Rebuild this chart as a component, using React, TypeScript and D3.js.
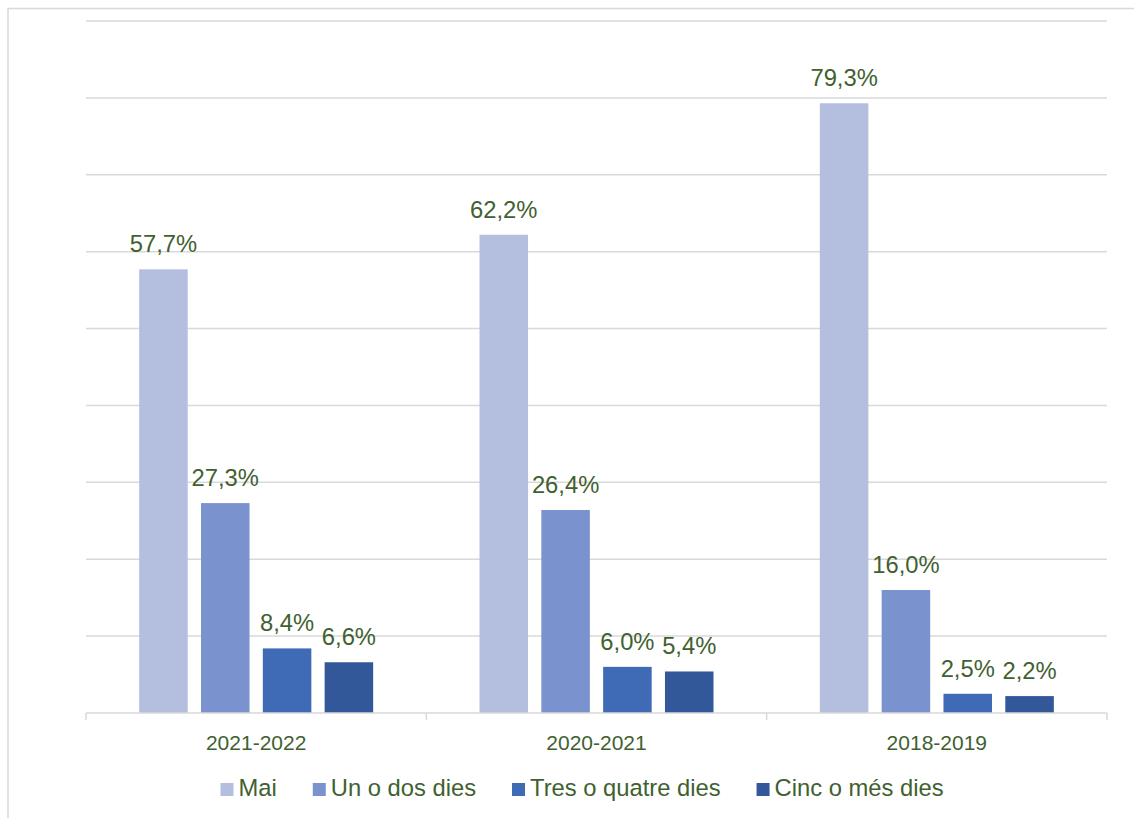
import React, { useEffect, useRef } from "react";
import * as d3 from "d3";

// ─── Data ─────────────────────────────────────────────────────────────────────
const CATEGORIES = ["2021-2022", "2020-2021", "2018-2019"];
const SERIES = ["Mai", "Un o dos dies", "Tres o quatre dies", "Cinc o més dies"];
const MAI = [57.7, 62.2, 79.3];
const UN_O_DOS = [27.3, 26.4, 16.0];
const TRES_O_QUATRE = [8.4, 6.0, 2.5];
const CINC_O_MES = [6.6, 5.4, 2.2];
const Y_TICKS = [0, 10, 20, 30, 40, 50, 60, 70, 80, 90];

// ─── Design tokens ────────────────────────────────────────────────────────────
const W = 1134;
const H = 818;
const PLOT = { left: 86, right: 1107, top: 21, bottom: 713 };
const COLORS = ["#b4bfe0", "#7a93cf", "#3e6ab6", "#335899"];
const TEXT = "#3f6130";
const GRID = "#d9d9d9";
const FONT = "'Liberation Sans', Arial, sans-serif";

export default function App() {
  const svgRef = useRef<SVGSVGElement>(null);

  useEffect(() => {
    const node = svgRef.current;
    if (!node) return;
    const svg = d3.select(node);
    svg.selectAll("*").remove();

    const values = [MAI, UN_O_DOS, TRES_O_QUATRE, CINC_O_MES];

    // frame (only top and left edges are visible in the view)
    svg.append("line").attr("x1", 8).attr("x2", W).attr("y1", 8.5).attr("y2", 8.5)
      .attr("stroke", GRID).attr("stroke-width", 1.5);
    svg.append("line").attr("x1", 8).attr("x2", 8).attr("y1", 8).attr("y2", H)
      .attr("stroke", GRID).attr("stroke-width", 1.5);

    const x0 = d3.scaleBand<string>().domain(CATEGORIES).range([PLOT.left, PLOT.right]);
    const x1 = d3.scaleBand<string>()
      .domain(SERIES)
      .range([0, 234])
      .paddingInner(0.215)
      .paddingOuter(0);
    const groupOffset = (x0.bandwidth() - 234) / 2;
    const y = d3.scaleLinear().domain([0, 90]).range([PLOT.bottom, PLOT.top]);

    // ── Grid lines ──────────────────────────────────────────────────────────
    svg.append("g")
      .selectAll("line")
      .data(Y_TICKS.slice(1))
      .join("line")
      .attr("x1", PLOT.left)
      .attr("x2", PLOT.right)
      .attr("y1", (d) => y(d))
      .attr("y2", (d) => y(d))
      .attr("stroke", GRID)
      .attr("stroke-width", 1.5);

    // ── Bars ────────────────────────────────────────────────────────────────
    const groups = svg.append("g")
      .selectAll("g")
      .data(CATEGORIES)
      .join("g")
      .attr("transform", (c) => `translate(${(x0(c) ?? 0) + groupOffset},0)`);

    groups.selectAll("rect")
      .data((_, ci) => SERIES.map((s, si) => ({ s, si, v: values[si][ci] })))
      .join("rect")
      .attr("x", (d) => x1(d.s) ?? 0)
      .attr("width", x1.bandwidth())
      .attr("y", (d) => y(d.v))
      .attr("height", (d) => y(0) - y(d.v))
      .attr("fill", (d) => COLORS[d.si]);

    groups.selectAll("text")
      .data((_, ci) => SERIES.map((s, si) => ({ s, si, v: values[si][ci] })))
      .join("text")
      .attr("x", (d) => (x1(d.s) ?? 0) + x1.bandwidth() / 2)
      .attr("y", (d) => y(d.v) - 17)
      .attr("text-anchor", "middle")
      .attr("fill", TEXT)
      .attr("font-size", 23.75)
      .text((d) => d.v.toFixed(1).replace(".", ",") + "%");

    // ── X axis ──────────────────────────────────────────────────────────────
    const xAxis = svg.append("g").attr("transform", `translate(0,${PLOT.bottom})`);
    xAxis.append("line").attr("x1", PLOT.left).attr("x2", PLOT.right)
      .attr("stroke", GRID).attr("stroke-width", 1.5);
    const bounds = [...CATEGORIES.map((c) => x0(c) ?? 0), PLOT.right];
    xAxis.selectAll("line.tick")
      .data(bounds)
      .join("line")
      .attr("class", "tick")
      .attr("x1", (d) => d).attr("x2", (d) => d)
      .attr("y1", 0).attr("y2", 7)
      .attr("stroke", GRID).attr("stroke-width", 1.5);
    xAxis.selectAll("text")
      .data(CATEGORIES)
      .join("text")
      .attr("x", (c) => (x0(c) ?? 0) + x0.bandwidth() / 2)
      .attr("y", 37)
      .attr("text-anchor", "middle")
      .attr("fill", TEXT)
      .attr("font-size", 21)
      .text((c) => c);

    // ── Legend ──────────────────────────────────────────────────────────────
    const legend = svg.append("g");
    let lx = 220.5;
    SERIES.forEach((s, i) => {
      legend.append("rect")
        .attr("x", lx).attr("y", 783).attr("width", 13).attr("height", 13)
        .attr("fill", COLORS[i]);
      const t = legend.append("text")
        .attr("x", lx + 18).attr("y", 796)
        .attr("fill", TEXT)
        .attr("font-size", 23.75)
        .text(s);
      const w = (t.node() as SVGTextElement).getComputedTextLength();
      lx += 18 + w + 36;
    });
  }, []);

  return (
    <svg
      ref={svgRef}
      width={W}
      height={H}
      style={{ position: "absolute", left: 0, top: 0, fontFamily: FONT, background: "#fff" }}
    />
  );
}
